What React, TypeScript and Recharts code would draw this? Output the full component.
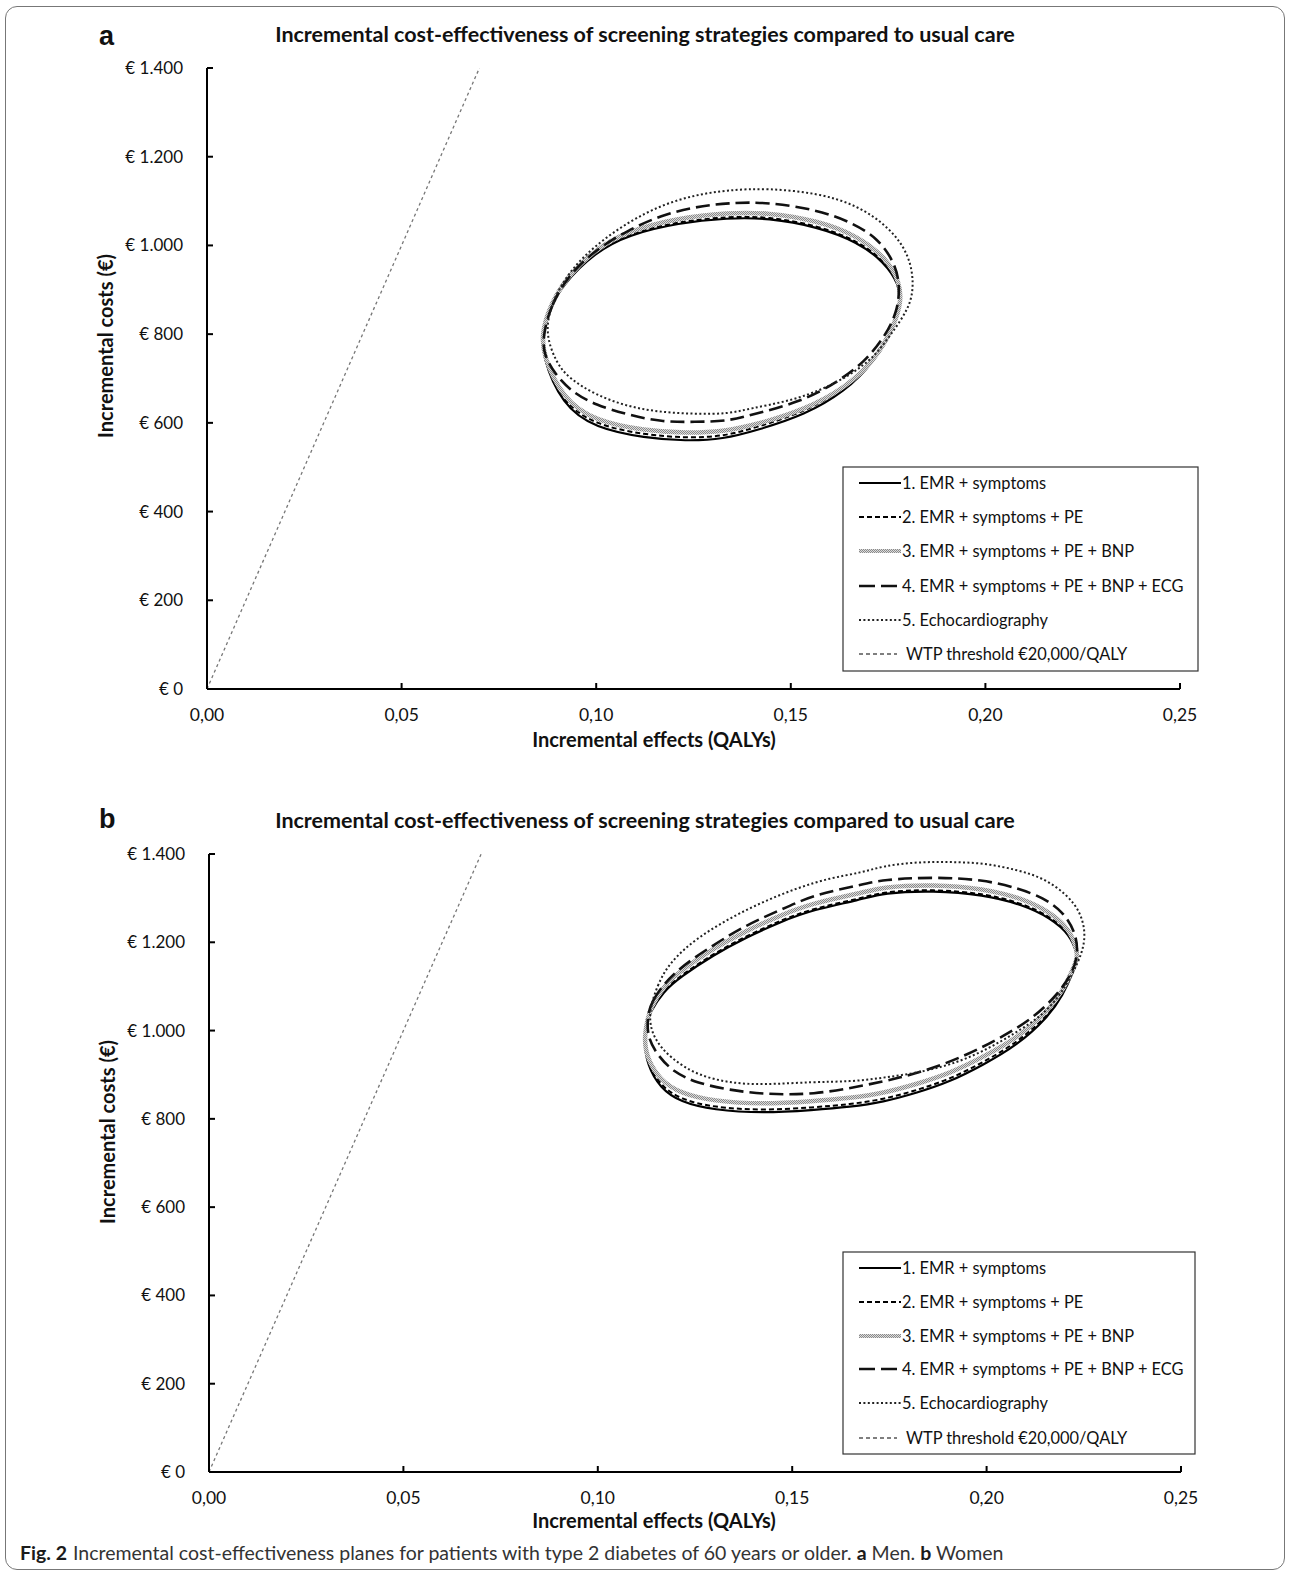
import React from "react";
import { ComposedChart, Line, XAxis, YAxis } from "recharts";

type Pt = [number, number];

const X_TICKS = [0, 0.05, 0.1, 0.15, 0.2, 0.25];
const X_LABELS = ["0,00", "0,05", "0,10", "0,15", "0,20", "0,25"];
const Y_TICKS = [0, 200, 400, 600, 800, 1000, 1200, 1400];
const Y_LABELS = ["€ 0", "€ 200", "€ 400", "€ 600", "€ 800", "€ 1.000", "€ 1.200", "€ 1.400"];

const LEGEND_NAMES = [
  "1. EMR + symptoms",
  "2. EMR + symptoms + PE",
  "3. EMR + symptoms + PE + BNP",
  "4. EMR + symptoms + PE + BNP + ECG",
  "5. Echocardiography",
  "WTP threshold €20,000/QALY",
];

// willingness-to-pay threshold, €20,000 per QALY
const WTP: Pt[] = [[0, 0], [0.07, 1400]];

// panel a: men
const MEN_1: Pt[] = [
  [0.0863, 805], [0.0871, 843], [0.0912, 911], [0.0998, 985], [0.1083, 1024], [0.1211, 1051],
  [0.1339, 1062], [0.1441, 1062], [0.1569, 1042], [0.1671, 1008], [0.174, 963], [0.1779, 911],
  [0.1781, 872], [0.1766, 821], [0.1715, 737], [0.1638, 670], [0.1536, 618], [0.1416, 584],
  [0.1326, 563], [0.123, 559], [0.1126, 566], [0.0998, 588], [0.0912, 640], [0.086, 753],
];
const MEN_2: Pt[] = [
  [0.0863, 805], [0.0871, 845], [0.0912, 914], [0.0998, 988], [0.1083, 1027], [0.1211, 1054],
  [0.1339, 1065], [0.1441, 1065], [0.1569, 1045], [0.1671, 1011], [0.174, 966], [0.1779, 913],
  [0.1781, 873], [0.1766, 823], [0.1715, 741], [0.1638, 676], [0.1536, 625], [0.1416, 591],
  [0.1326, 569], [0.123, 566], [0.1126, 573], [0.0998, 595], [0.0912, 646], [0.086, 756],
];
const MEN_3: Pt[] = [
  [0.0862, 803], [0.0875, 850], [0.0915, 920], [0.0998, 992], [0.1083, 1033], [0.1211, 1062],
  [0.1339, 1074], [0.1441, 1074], [0.1569, 1056], [0.1671, 1022], [0.1745, 972], [0.1781, 915],
  [0.1783, 872], [0.1768, 824], [0.1718, 742], [0.164, 679], [0.1536, 630], [0.1416, 597],
  [0.1326, 580], [0.123, 577], [0.1126, 582], [0.0998, 604], [0.0915, 652], [0.0862, 755],
];
const MEN_4: Pt[] = [
  [0.0863, 797], [0.0884, 866], [0.0929, 933], [0.0998, 990], [0.1083, 1035], [0.1167, 1068],
  [0.1254, 1087], [0.1339, 1096], [0.1441, 1098], [0.1569, 1080], [0.1654, 1053], [0.1723, 1017],
  [0.1766, 963], [0.1781, 911], [0.1774, 850], [0.174, 792], [0.1689, 737], [0.162, 692],
  [0.1526, 647], [0.1398, 618], [0.1339, 604], [0.1254, 602], [0.1167, 602], [0.1083, 618],
  [0.0998, 640], [0.0937, 670], [0.0896, 708], [0.0865, 753],
];
const MEN_5: Pt[] = [
  [0.0868, 805], [0.0886, 872], [0.0929, 940], [0.0998, 1001], [0.1083, 1053], [0.1167, 1091],
  [0.1254, 1114], [0.1339, 1125], [0.1441, 1129], [0.1569, 1118], [0.1671, 1091], [0.1756, 1039],
  [0.1805, 978], [0.1817, 911], [0.1805, 859], [0.1756, 798], [0.1715, 749], [0.1654, 708],
  [0.1569, 670], [0.1485, 647], [0.1398, 633], [0.1339, 620], [0.1254, 620], [0.1167, 624],
  [0.1083, 636], [0.0998, 663], [0.0929, 701], [0.0896, 737],
];

// panel b: women
const WOMEN_1: Pt[] = [
  [0.1127, 1020], [0.1135, 1042], [0.1168, 1088], [0.1212, 1121], [0.1297, 1171], [0.1384, 1212],
  [0.1469, 1246], [0.1554, 1274], [0.1675, 1296], [0.1734, 1312], [0.1863, 1317], [0.1991, 1308],
  [0.2094, 1285], [0.2164, 1255], [0.2215, 1217], [0.2233, 1172], [0.2233, 1160], [0.2223, 1133],
  [0.2197, 1081], [0.2156, 1028], [0.2079, 967], [0.1991, 922], [0.1906, 884], [0.1821, 859],
  [0.1734, 838], [0.1649, 827], [0.1554, 820], [0.1425, 813], [0.1297, 820], [0.1212, 838],
  [0.116, 870], [0.1127, 922], [0.1119, 974],
];
const WOMEN_2: Pt[] = [
  [0.1127, 1021], [0.1135, 1045], [0.1168, 1091], [0.1212, 1124], [0.1297, 1174], [0.1384, 1215],
  [0.1469, 1249], [0.1554, 1277], [0.1675, 1299], [0.1734, 1315], [0.1863, 1320], [0.1991, 1311],
  [0.2094, 1288], [0.2164, 1258], [0.2215, 1220], [0.2233, 1175], [0.2233, 1162], [0.2223, 1137],
  [0.2197, 1086], [0.2156, 1033], [0.2079, 973], [0.1991, 928], [0.1906, 890], [0.1821, 865],
  [0.1734, 844], [0.1649, 833], [0.1554, 826], [0.1425, 819], [0.1297, 826], [0.1212, 844],
  [0.116, 876], [0.1127, 928], [0.1119, 979],
];
const WOMEN_3: Pt[] = [
  [0.1127, 1022], [0.1135, 1050], [0.1168, 1100], [0.1212, 1135], [0.1297, 1186], [0.1384, 1227],
  [0.1469, 1261], [0.1554, 1289], [0.1675, 1311], [0.1734, 1326], [0.1863, 1331], [0.1991, 1322],
  [0.2094, 1299], [0.2164, 1268], [0.2215, 1228], [0.2233, 1180], [0.2233, 1165], [0.2223, 1140],
  [0.2197, 1092], [0.2156, 1042], [0.2079, 983], [0.1991, 940], [0.1906, 903], [0.1821, 879],
  [0.1734, 858], [0.1649, 847], [0.1554, 840], [0.1425, 833], [0.1297, 840], [0.1212, 858],
  [0.116, 888], [0.1127, 936], [0.1119, 980],
];
const WOMEN_4: Pt[] = [
  [0.1127, 1024], [0.1135, 1065], [0.1194, 1133], [0.1297, 1194], [0.1384, 1240], [0.1469, 1273],
  [0.1554, 1307], [0.1675, 1330], [0.1734, 1342], [0.1863, 1348], [0.1991, 1342], [0.2079, 1323],
  [0.2146, 1301], [0.2197, 1269], [0.2228, 1224], [0.2236, 1178], [0.2223, 1133], [0.2182, 1081],
  [0.212, 1028], [0.2035, 983], [0.195, 945], [0.1863, 915], [0.1778, 893], [0.1693, 877],
  [0.1554, 854], [0.1425, 856], [0.134, 865], [0.1255, 881], [0.1194, 906], [0.1153, 945],
  [0.1129, 983],
];
const WOMEN_5: Pt[] = [
  [0.1129, 1036], [0.1153, 1104], [0.1186, 1156], [0.1255, 1210], [0.134, 1255], [0.1425, 1292],
  [0.1513, 1323], [0.1598, 1346], [0.1675, 1357], [0.1734, 1373], [0.1821, 1382], [0.1906, 1382],
  [0.1991, 1380], [0.2079, 1364], [0.2146, 1346], [0.2207, 1308], [0.2241, 1269], [0.2254, 1224],
  [0.2249, 1188], [0.2236, 1156], [0.2207, 1104], [0.2156, 1042], [0.2079, 997], [0.1991, 952],
  [0.1906, 922], [0.1821, 904], [0.1734, 893], [0.1649, 884], [0.1554, 884], [0.1425, 877],
  [0.134, 881], [0.1255, 899], [0.1186, 938], [0.1142, 983],
];

const FONT = "Lato, 'Open Sans', sans-serif";

const STYLES = [
  { stroke: "#000", width: 2.2, dash: undefined as string | undefined },
  { stroke: "#000", width: 2, dash: "5 3" },
  { stroke: "pattern", width: 4.5, dash: undefined },
  { stroke: "#111", width: 2.6, dash: "14 6" },
  { stroke: "#222", width: 2, dash: "2 2.4" },
];

const toRows = (pts: Pt[]) => pts.map(([x, y]) => ({ x, y }));

function GrayPattern({ id }: { id: string }) {
  return (
    <pattern id={id} width={2} height={2} patternUnits="userSpaceOnUse">
      <rect width={2} height={2} fill="#dcdcdc" />
      <rect width={1} height={1} fill="#8a8a8a" />
      <rect x={1} y={1} width={1} height={1} fill="#8a8a8a" />
    </pattern>
  );
}

function XTick(props: any) {
  const { x, y, payload } = props;
  const label = X_LABELS[X_TICKS.indexOf(payload.value)];
  return (
    <g>
      <line x1={x} y1={y} x2={x} y2={y - 6} stroke="#000" strokeWidth={2} />
      <text x={x} y={y + 32} textAnchor="middle" fontFamily={FONT} fontSize={17.5} fill="#111">
        {label}
      </text>
    </g>
  );
}

function YTick(props: any) {
  const { x, y, payload } = props;
  const label = Y_LABELS[Y_TICKS.indexOf(payload.value)];
  return (
    <g>
      <line x1={x} y1={y} x2={x + 6} y2={y} stroke="#000" strokeWidth={2} />
      <text x={x - 24} y={y} dy="0.35em" textAnchor="end" fontFamily={FONT} fontSize={17} fill="#111">
        {label}
      </text>
    </g>
  );
}

interface PanelProps {
  top: number;
  plotTop: number;
  plotBottom: number;
  plotLeft: number;
  plotRight: number;
  series: Pt[][];
  patternId: string;
}

function Panel({ top, plotTop, plotBottom, plotLeft, plotRight, series, patternId }: PanelProps) {
  const H = 780;
  return (
    <div style={{ position: "absolute", left: 0, top, width: 1290, height: H }}>
      <ComposedChart
        width={1290}
        height={H}
        margin={{ top: plotTop, right: 1290 - plotRight, bottom: H - plotBottom - 40, left: plotLeft - 80 }}
      >
        <defs>
          <GrayPattern id={patternId} />
        </defs>
        <XAxis
          type="number"
          dataKey="x"
          domain={[0, 0.25]}
          ticks={X_TICKS}
          interval={0}
          height={40}
          tickSize={0}
          tickMargin={0}
          tickLine={false}
          axisLine={{ stroke: "#000", strokeWidth: 2 }}
          tick={(p: any) => <XTick {...p} />}
          allowDataOverflow
        />
        <YAxis
          type="number"
          dataKey="y"
          domain={[0, 1400]}
          ticks={Y_TICKS}
          interval={0}
          width={80}
          tickSize={0}
          tickMargin={0}
          tickLine={false}
          axisLine={{ stroke: "#000", strokeWidth: 2 }}
          tick={(p: any) => <YTick {...p} />}
          allowDataOverflow
        />
        {series.map((pts, i) => {
          const s = STYLES[i];
          return (
            <Line
              key={i}
              data={toRows(pts)}
              dataKey="y"
              type="basisClosed"
              stroke={s.stroke === "pattern" ? `url(#${patternId})` : s.stroke}
              strokeWidth={s.width}
              strokeDasharray={s.dash}
              dot={false}
              activeDot={false}
              isAnimationActive={false}
            />
          );
        })}
        <Line
          data={toRows(WTP)}
          dataKey="y"
          type="linear"
          stroke="#777"
          strokeWidth={1.3}
          strokeDasharray="3 3"
          dot={false}
          activeDot={false}
          isAnimationActive={false}
        />
      </ComposedChart>
    </div>
  );
}

function Legend({ x, y, w, h, rows, patternId }: { x: number; y: number; w: number; h: number; rows: number[]; patternId: string }) {
  return (
    <g>
      <defs>
        <GrayPattern id={patternId} />
      </defs>
      <rect x={x} y={y} width={w} height={h} fill="#fff" stroke="#333" strokeWidth={1.2} />
      {LEGEND_NAMES.map((name, i) => {
        const cy = rows[i];
        const isWtp = i === 5;
        const s = STYLES[i];
        return (
          <g key={name}>
            {isWtp ? (
              <line x1={x + 16} y1={cy} x2={x + 54} y2={cy} stroke="#555" strokeWidth={1.3} strokeDasharray="4 3" />
            ) : (
              <line
                x1={x + 16}
                y1={cy}
                x2={x + 58}
                y2={cy}
                stroke={s.stroke === "pattern" ? `url(#${patternId})` : s.stroke}
                strokeWidth={s.stroke === "pattern" ? 4 : s.width}
                strokeDasharray={i === 3 ? "16 6" : s.dash}
              />
            )}
            <text x={x + (isWtp ? 63 : 59)} y={cy} dy="0.35em" fontFamily={FONT} fontSize={16.4} fill="#111">
              {name}
            </text>
          </g>
        );
      })}
    </g>
  );
}

export default function App() {
  return (
    <div style={{ position: "absolute", left: 0, top: 0, width: 1290, height: 1574, background: "#fff", overflow: "hidden" }}>
      <div
        style={{
          position: "absolute",
          left: 5,
          top: 6,
          width: 1280,
          height: 1564,
          border: "1.2px solid #777",
          borderRadius: 12,
          boxSizing: "border-box",
        }}
      />
      <Panel top={0} plotTop={68} plotBottom={689} plotLeft={207} plotRight={1180} series={[MEN_1, MEN_2, MEN_3, MEN_4, MEN_5]} patternId="grayA" />
      <Panel top={780} plotTop={74} plotBottom={692} plotLeft={209} plotRight={1181} series={[WOMEN_1, WOMEN_2, WOMEN_3, WOMEN_4, WOMEN_5]} patternId="grayB" />
      <svg width={1290} height={1574} style={{ position: "absolute", left: 0, top: 0, pointerEvents: "none" }}>
        <text x={99} y={45} fontFamily="'Liberation Sans', Arial, sans-serif" fontWeight="bold" fontSize={27} fill="#111">a</text>
        <text x={645} y={42} textAnchor="middle" fontFamily={FONT} fontWeight="bold" fontSize={21.5} fill="#111">
          Incremental cost-effectiveness of screening strategies compared to usual care
        </text>
        <text transform="translate(106,346) rotate(-90)" dy="0.35em" textAnchor="middle" fontFamily={FONT} fontWeight="bold" fontSize={20} fill="#111">
          Incremental costs (€)
        </text>
        <text x={654} y={740} dy="0.35em" textAnchor="middle" fontFamily={FONT} fontWeight="bold" fontSize={20} fill="#111">
          Incremental effects (QALYs)
        </text>
        <Legend x={843} y={467} w={355} h={204} rows={[483, 517, 551, 586, 620, 654]} patternId="legA" />

        <text x={99} y={828} fontFamily="'Liberation Sans', Arial, sans-serif" fontWeight="bold" fontSize={27} fill="#111">b</text>
        <text x={645} y={828} textAnchor="middle" fontFamily={FONT} fontWeight="bold" fontSize={21.5} fill="#111">
          Incremental cost-effectiveness of screening strategies compared to usual care
        </text>
        <text transform="translate(108,1132) rotate(-90)" dy="0.35em" textAnchor="middle" fontFamily={FONT} fontWeight="bold" fontSize={20} fill="#111">
          Incremental costs (€)
        </text>
        <text x={654} y={1521} dy="0.35em" textAnchor="middle" fontFamily={FONT} fontWeight="bold" fontSize={20} fill="#111">
          Incremental effects (QALYs)
        </text>
        <Legend x={843} y={1252} w={352} h={202} rows={[1268, 1302, 1336, 1369, 1403, 1438]} patternId="legB" />

        <text x={20} y={1560} fontFamily={FONT} fontSize={19.5} fill="#333">
          <tspan fontWeight="bold" fill="#1b1b1b">Fig. 2</tspan>
          <tspan dx={6}>Incremental cost-effectiveness planes for patients with type 2 diabetes of 60 years or older. </tspan>
          <tspan fontWeight="bold" fill="#1b1b1b">a</tspan>
          <tspan> Men. </tspan>
          <tspan fontWeight="bold" fill="#1b1b1b">b</tspan>
          <tspan> Women</tspan>
        </text>
      </svg>
    </div>
  );
}
